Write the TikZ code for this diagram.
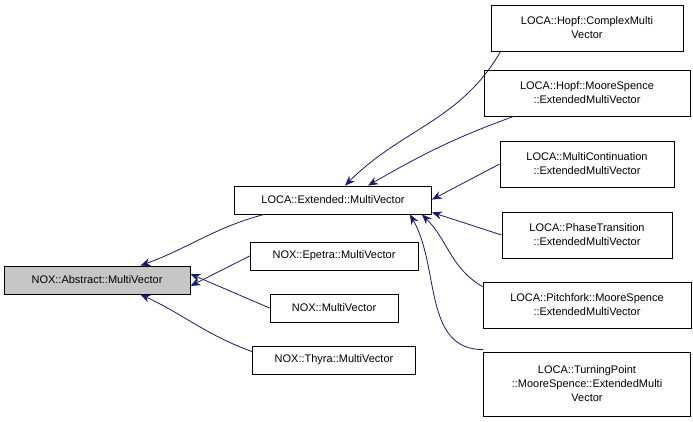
\documentclass[tikz,border=0pt]{standalone}
\usepackage{fontspec}
\setmainfont{Liberation Sans}
\usetikzlibrary{positioning, arrows.meta}
\definecolor{edgeblue}{RGB}{25,25,112}
\tikzset{
	cls/.style={draw, thick, fill=white, align=center, inner sep=2pt,
		font=\fontsize{11}{14}\selectfont},
	edge/.style={edgeblue, thick, -{Stealth[length=10pt, width=8pt]}},
}

\begin{document}
\begin{tikzpicture}[x=1pt, y=-1pt]
	\useasboundingbox (0,0) rectangle (693,421);
	\node [cls, fill=gray!45, minimum width=186pt, minimum height=28pt] (ABS) at (97,280) {NOX::Abstract::MultiVector};
	\node [cls, minimum width=197pt, minimum height=28pt] (EXT) at (333,200) {LOCA::Extended::MultiVector};
	\node [cls, minimum width=168pt, minimum height=28pt] (EPETRA) at (334,256) {NOX::Epetra::MultiVector};
	\node [cls, minimum width=128pt, minimum height=28pt] (NOXMV) at (334,308) {NOX::MultiVector};
	\node [cls, minimum width=163pt, minimum height=28pt] (THYRA) at (334,360) {NOX::Thyra::MultiVector};

	\node [cls, minimum width=192pt, minimum height=46pt] (COMPLEX) at (587,28) {LOCA::Hopf::ComplexMulti\\Vector};
	\node [cls, minimum width=206pt, minimum height=46pt] (HOPFMS) at (587,93) {LOCA::Hopf::MooreSpence\\::ExtendedMultiVector};
	\node [cls, minimum width=174pt, minimum height=46pt] (MULTICONT) at (587,164) {LOCA::MultiContinuation\\::ExtendedMultiVector};
	\node [cls, minimum width=170pt, minimum height=46pt] (PHASE) at (587,235) {LOCA::PhaseTransition\\::ExtendedMultiVector};
	\node [cls, minimum width=208pt, minimum height=46pt] (PITCH) at (587,305) {LOCA::Pitchfork::MooreSpence\\::ExtendedMultiVector};
	\node [cls, minimum width=207pt, minimum height=64pt] (TURN) at (587,384) {LOCA::TurningPoint\\::MooreSpence::ExtendedMulti\\Vector};

	\draw [edge] (EXT.south west) ++(30,0) to[out=195, in=20] ([xshift=-50pt]ABS.north east);
	\draw [edge] (EPETRA.west) -- ([yshift=-6pt]ABS.east);
	\draw [edge] (NOXMV.west) -- ([yshift=6pt]ABS.east);
	\draw [edge] (THYRA.north west) ++(0,6) to[out=160, in=-25] ([xshift=-50pt]ABS.south east);

	\draw [edge] (COMPLEX.south west) ++(10,0) to[out=240, in=45] ([xshift=12pt]EXT.north);
	\draw [edge] (HOPFMS.south west) ++(30,0) to[out=200, in=30] ([xshift=35pt]EXT.north);
	\draw [edge] (MULTICONT.west) -- ([yshift=-14pt]EXT.north east);
	\draw [edge] (PHASE.west) -- ([yshift=2pt]EXT.south east);
	\draw [edge] (PITCH.north west) ++(0,5) to[out=150, in=-45] ([xshift=-10pt]EXT.south east);
	\draw [edge] (TURN.north west) ++(0,-2) to[out=180, in=-60] ([xshift=-22pt]EXT.south east);
\end{tikzpicture}
\end{document}
